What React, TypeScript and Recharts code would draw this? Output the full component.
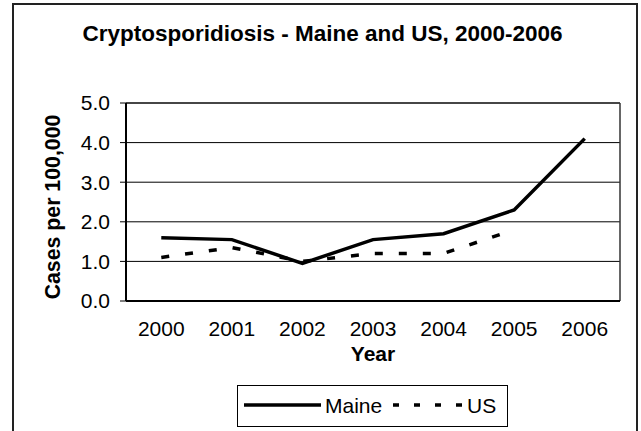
import { LineChart, Line, XAxis, YAxis, CartesianGrid, ReferenceLine, Legend, Label } from 'recharts';

// Values (cases per 100,000)
const years = [2000, 2001, 2002, 2003, 2004, 2005, 2006];
const maineRates = [1.6, 1.55, 0.95, 1.55, 1.7, 2.3, 4.1];
const usRates: (number | null)[] = [1.1, 1.35, 1.0, 1.2, 1.2, 1.8, null];
const yTicks = [0, 1, 2, 3, 4, 5];
// tick marks sit between the categories, like the spreadsheet chart
const boundaryTicks = [1999.5, 2000.5, 2001.5, 2002.5, 2003.5, 2004.5, 2005.5, 2006.5];

const data = years.map((year, i) => ({ year, maine: maineRates[i], us: usRates[i] }));

const FONT = '"Liberation Sans", Arial, sans-serif';

const seriesStyles: Record<string, { label: string; dash?: string }> = {
  maine: { label: 'Maine' },
  us: { label: 'US', dash: '6 15' },
};

// Legend box: line sample + name, side by side
const LegendBox = () => (
  <div style={{ width: 271, height: 42, border: '1px solid #000', boxSizing: 'border-box', background: '#fff' }}>
    <svg width={269} height={40} style={{ display: 'block' }}>
      <line x1={6} x2={83} y1={19} y2={19} stroke="#000" strokeWidth={3.5} />
      <text x={87} y={26.5} fontFamily={FONT} fontSize={21} fill="#000">{seriesStyles.maine.label}</text>
      <line x1={155} x2={227} y1={19} y2={19} stroke="#000" strokeWidth={3.5} strokeDasharray={seriesStyles.us.dash} />
      <text x={229} y={26.5} fontFamily={FONT} fontSize={21} fill="#000">{seriesStyles.us.label}</text>
    </svg>
  </div>
);

const YTitle = ({ viewBox }: any) => {
  const cx = viewBox.x + 53;
  const cy = viewBox.y + viewBox.height / 2 + 5;
  return (
    <text
      transform={`translate(${cx},${cy}) rotate(-90)`}
      textAnchor="middle"
      dominantBaseline="central"
      fontFamily={FONT}
      fontSize={21.3}
      fontWeight="bold"
      fill="#000"
    >
      Cases per 100,000
    </text>
  );
};

export default function App() {
  return (
    <div style={{ position: 'absolute', left: 0, top: 0, width: 641, height: 431, overflow: 'hidden', background: '#fff' }}>
      <LineChart width={641} height={431} data={data} margin={{ top: 103, right: 21, bottom: 64, left: 0 }}>
        <CartesianGrid vertical={false} stroke="#000" strokeWidth={1} />
        <XAxis
          dataKey="year"
          type="number"
          domain={[1999.5, 2006.5]}
          ticks={boundaryTicks}
          tick={false}
          tickSize={6}
          height={6}
          axisLine={{ stroke: '#000', strokeWidth: 2 }}
          tickLine={{ stroke: '#000', strokeWidth: 1 }}
        />
        <XAxis
          xAxisId="l"
          dataKey="year"
          type="number"
          domain={[1999.5, 2006.5]}
          ticks={years}
          height={60}
          axisLine={false}
          tickLine={false}
          tickSize={0}
          tickMargin={14}
          tick={{ fill: '#000', fontSize: 21, fontFamily: FONT }}
        >
          <Label value="Year" position="insideBottom" offset={6} fill="#000" fontSize={21} fontWeight="bold" fontFamily={FONT} />
        </XAxis>
        <YAxis
          domain={[0, 5]}
          ticks={yTicks}
          width={126}
          tickSize={6}
          tickMargin={10}
          tickFormatter={(v: number) => v.toFixed(1)}
          axisLine={{ stroke: '#000', strokeWidth: 2 }}
          tickLine={{ stroke: '#000', strokeWidth: 1 }}
          tick={{ fill: '#000', fontSize: 21, fontFamily: FONT }}
          label={<YTitle />}
        />
        <ReferenceLine y={5} stroke="#333" strokeWidth={1.5} />
        <ReferenceLine x={2006.5} stroke="#333" strokeWidth={1.5} />
        <Line
          type="linear"
          dataKey="maine"
          name="Maine"
          stroke="#000"
          strokeWidth={3.5}
          dot={false}
          isAnimationActive={false}
        />
        <Line
          type="linear"
          dataKey="us"
          name="US"
          stroke="#000"
          strokeWidth={3.5}
          strokeDasharray="8 16"
          dot={false}
          isAnimationActive={false}
        />
        <Legend
          layout="horizontal"
          verticalAlign="middle"
          align="center"
          content={<LegendBox />}
          wrapperStyle={{ position: 'absolute', left: 237, top: 385, width: 271, height: 42 }}
        />
      </LineChart>
      <div
        style={{
          position: 'absolute',
          left: 0,
          width: 641,
          top: 21,
          textAlign: 'center',
          fontFamily: FONT,
          fontSize: 22.5,
          fontWeight: 'bold',
          paddingLeft: 2,
          color: '#000',
        }}
      >
        Cryptosporidiosis - Maine and US, 2000-2006
      </div>
      <div
        style={{
          position: 'absolute',
          left: 12,
          top: 3,
          width: 626,
          height: 460,
          border: '2px solid #222',
          boxSizing: 'border-box',
          pointerEvents: 'none',
        }}
      />
    </div>
  );
}
